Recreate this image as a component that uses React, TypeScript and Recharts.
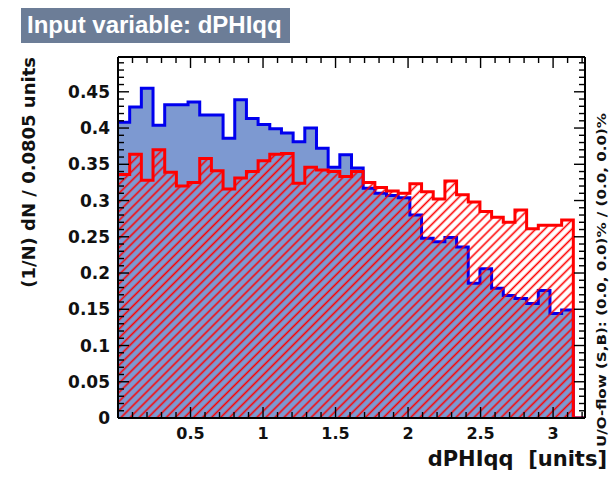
import React from "react";
import { AreaChart, Area, XAxis, YAxis } from "recharts";

// histogram binning (40 bins, width as in the axis title)
const binWidth = 0.0805;
const xMin = 0;
const nBins = 40;
const xMax = xMin + nBins * binWidth;

// normalised bin contents, signal (blue) and background (red hatched)
const signal = [
  0.408, 0.429, 0.455, 0.404, 0.432, 0.432, 0.436, 0.418, 0.418, 0.386,
  0.439, 0.413, 0.405, 0.399, 0.393, 0.381, 0.4, 0.372, 0.346, 0.363,
  0.345, 0.317, 0.31, 0.307, 0.304, 0.28, 0.248, 0.243, 0.249, 0.236,
  0.186, 0.206, 0.179, 0.169, 0.165, 0.158, 0.176, 0.144, 0.149, 0,
];
const background = [
  0.336, 0.364, 0.328, 0.37, 0.339, 0.32, 0.325, 0.358, 0.341, 0.316,
  0.331, 0.34, 0.355, 0.364, 0.365, 0.324, 0.346, 0.342, 0.34, 0.333,
  0.34, 0.325, 0.318, 0.313, 0.31, 0.323, 0.312, 0.302, 0.327, 0.308,
  0.298, 0.285, 0.277, 0.27, 0.287, 0.261, 0.266, 0.266, 0.273, 0,
];

const xTickLabels = [0.5, 1, 1.5, 2, 2.5, 3];
const yTickLabels = [0, 0.05, 0.1, 0.15, 0.2, 0.25, 0.3, 0.35, 0.4, 0.45];
const yMax = 0.498;

const varName = "dPHIqq";
const titleText = `Input variable: ${varName}`;
const xTitle = `${varName}  [units]`;
const yTitle = `(1/N) dN / ${binWidth} units`;
const flowText = "U/O-flow (S,B): (0.0, 0.0)% / (0.0, 0.0)%";

// step data: one point per lower bin edge plus the closing edge
const rows = signal.map((s, i) => ({ x: xMin + i * binWidth, sig: s, bkg: background[i] }));
rows.push({ x: xMax, sig: 0, bkg: 0 });

// minor ticks every 0.1 on x, every 0.01 on y
const xMinor: number[] = [];
for (let i = 0; i <= 32; i++) xMinor.push(i / 10);
const yMinor: number[] = [];
for (let i = 0; i <= 49; i++) yMinor.push(i / 100);

const near = (list: number[], v: number) => list.some((t) => Math.abs(t - v) < 1e-6);
const isMajorX = (v: number) => Math.abs(v * 2 - Math.round(v * 2)) < 1e-6;
const isMajorY = (v: number) => Math.abs(v * 20 - Math.round(v * 20)) < 1e-6;

const labelFont = "'DejaVu Sans', sans-serif";

const XTick = (props: any) => {
  const { x, y, payload, dir, labels } = props;
  const v = payload.value;
  const len = isMajorX(v) ? 11 : 6;
  return (
    <g>
      <line x1={x} y1={y} x2={x} y2={y + dir * len} stroke="#000" strokeWidth={1.4} />
      {labels && near(xTickLabels, v) ? (
        <text x={x} y={y + 21} textAnchor="middle" fontFamily={labelFont} fontWeight="bold" fontSize={16} fill="#111">
          {v}
        </text>
      ) : null}
    </g>
  );
};

const YTick = (props: any) => {
  const { x, y, payload, dir, labels } = props;
  const v = payload.value;
  const len = isMajorY(v) ? 11 : 6;
  return (
    <g>
      <line x1={x} y1={y} x2={x + dir * len} y2={y} stroke="#000" strokeWidth={1.4} />
      {labels && near(yTickLabels, v) ? (
        <text x={x - 8} y={y} dy="0.36em" textAnchor="end" fontFamily={labelFont} fontWeight="bold" fontSize={17} fill="#111">
          {Number(v.toFixed(2)).toString()}
        </text>
      ) : null}
    </g>
  );
};

export default function App() {
  return (
    <div style={{ position: "fixed", left: 0, top: 0, width: 610, height: 480, background: "#fff" }}>
      <svg width={0} height={0} style={{ position: "absolute" }}>
        <defs>
          <pattern id="bkgHatch" width={6.4} height={6.4} patternUnits="userSpaceOnUse" patternTransform="rotate(45)">
            <line x1={3.2} y1={0} x2={3.2} y2={6.4} stroke="#ff0000" strokeWidth={1.6} />
          </pattern>
        </defs>
      </svg>

      <AreaChart width={610} height={480} data={rows} margin={{ top: 56, right: 24, bottom: 61, left: 117 }}>
        <Area
          type="stepAfter"
          dataKey="sig"
          stroke="#0000ee"
          strokeWidth={3}
          fill="#7d99d1"
          fillOpacity={1}
          isAnimationActive={false}
          dot={false}
          activeDot={false}
        />
        <Area
          type="stepAfter"
          dataKey="bkg"
          stroke="#ff0000"
          strokeWidth={3}
          fill="url(#bkgHatch)"
          fillOpacity={1}
          isAnimationActive={false}
          dot={false}
          activeDot={false}
        />
        <XAxis
          dataKey="x"
          type="number"
          domain={[xMin, xMax]}
          allowDataOverflow
          ticks={xMinor}
          interval={0}
          height={1}
          tickSize={0}
          tickMargin={0}
          tickLine={false}
          axisLine={{ stroke: "#000", strokeWidth: 2 }}
          tick={(p: any) => <XTick {...p} dir={-1} labels />}
        />
        <XAxis
          xAxisId="top"
          orientation="top"
          dataKey="x"
          type="number"
          domain={[xMin, xMax]}
          allowDataOverflow
          ticks={xMinor}
          interval={0}
          height={1}
          tickSize={0}
          tickMargin={0}
          tickLine={false}
          axisLine={{ stroke: "#000", strokeWidth: 2 }}
          tick={(p: any) => <XTick {...p} dir={1} />}
        />
        <YAxis
          type="number"
          domain={[0, yMax]}
          allowDataOverflow
          ticks={yMinor}
          interval={0}
          width={1}
          tickSize={0}
          tickMargin={0}
          tickLine={false}
          axisLine={{ stroke: "#000", strokeWidth: 2 }}
          tick={(p: any) => <YTick {...p} dir={1} labels />}
        />
        <YAxis
          yAxisId="right"
          orientation="right"
          type="number"
          domain={[0, yMax]}
          allowDataOverflow
          ticks={yMinor}
          interval={0}
          width={1}
          tickSize={0}
          tickMargin={0}
          tickLine={false}
          axisLine={{ stroke: "#000", strokeWidth: 2 }}
          tick={(p: any) => <YTick {...p} dir={-1} />}
        />
      </AreaChart>

      <svg width={610} height={480} style={{ position: "absolute", left: 0, top: 0, pointerEvents: "none" }}>
        <rect x={21} y={8} width={269} height={35} fill="#6c7d97" />
        <text x={27} y={33} fontFamily="'Liberation Sans', Arial, sans-serif" fontWeight="bold" fontSize={24} fill="#fff">
          {titleText}
        </text>
        <text
          x={35}
          y={57}
          textAnchor="end"
          transform="rotate(-90, 35, 57)"
          fontFamily={labelFont}
          fontWeight="bold"
          fontSize={18}
          fill="#111"
        >
          {yTitle}
        </text>
        <text
          x={607}
          y={466}
          textAnchor="end"
          fontFamily={labelFont}
          fontWeight="bold"
          fontSize={21}
          fill="#111"
          style={{ whiteSpace: "pre" }}
        >
          {xTitle}
        </text>
        <text
          x={606}
          y={447}
          transform="rotate(-90, 606, 447)"
          fontFamily={labelFont}
          fontWeight="bold"
          fontSize={12}
          textLength={334}
          lengthAdjust="spacingAndGlyphs"
          fill="#111"
        >
          {flowText}
        </text>
      </svg>
    </div>
  );
}
